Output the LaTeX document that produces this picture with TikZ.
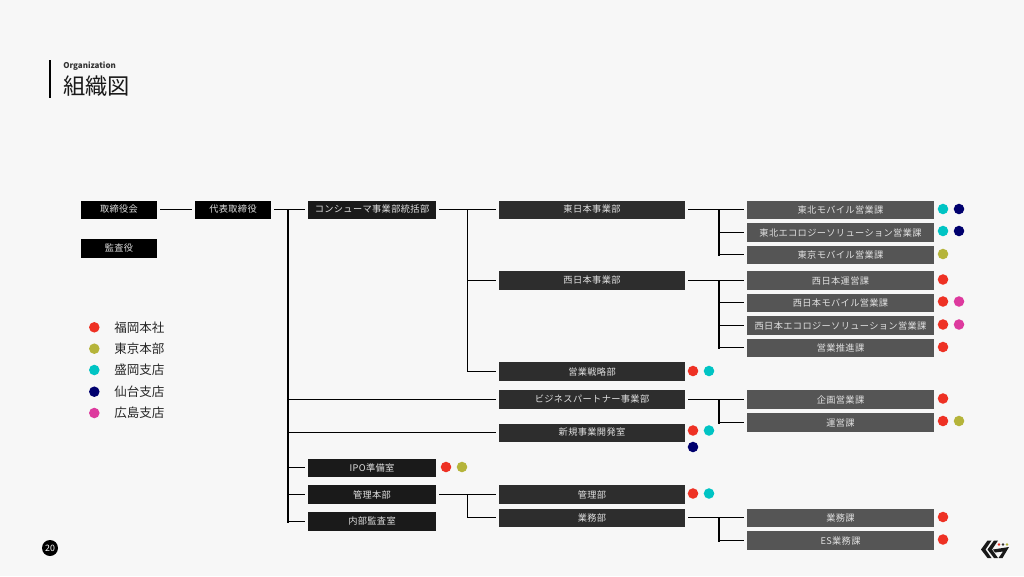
\documentclass[tikz,border=0pt]{standalone}
\usepackage{fontspec}
\setmainfont{Noto Sans CJK JP}[LetterSpace=4]
\newfontfamily\plainjp{Noto Sans CJK JP}
\newcounter{dotc}
\definecolor{bg}{HTML}{F7F7F7}
\definecolor{cfuk}{HTML}{EE3124}
\definecolor{ctok}{HTML}{B5B43A}
\definecolor{cmor}{HTML}{00C4C4}
\definecolor{csen}{HTML}{00006E}
\definecolor{chir}{HTML}{DD3A9E}
\definecolor{lvA}{HTML}{000000}
\definecolor{lvB}{HTML}{1A1A1A}
\definecolor{lvC}{HTML}{2D2D2D}
\definecolor{lvD}{HTML}{555555}
\tikzset{
  x=0.75pt,y=-0.75pt,
  boxn/.style={rectangle,inner sep=0pt,outer sep=2.25pt,text=white!88!black,font=\fontsize{6.9pt}{8pt}\selectfont},
  conn/.style={line width=0.8pt,black},
  trunk/.style={line width=1.5pt,black,line cap=rect},
  dotn/.style={circle,inner sep=0pt,minimum size=7.9pt,draw=none},
  legt/.style={anchor=west,inner sep=0pt,text=black!85,font=\plainjp\fontsize{9.4pt}{11pt}\selectfont},
}
\newcommand\bx[7]{\node[boxn,fill=#6,minimum width={(#4-#2)*0.75pt},minimum height={(#5-#3)*0.75pt}] (#1) at ({(#2+#4)/2},{(#3+#5)/2}) {#7};}
\newcommand\dt[3]{\stepcounter{dotc}\node[dotn,fill=#3] (d\arabic{dotc}) at (#1,#2) {};}
\begin{document}
\begin{tikzpicture}
\useasboundingbox (0,0) rectangle (1024,576);
\fill[bg] (0,0) rectangle (1024,576);
% heading
\fill[black] (49,60) rectangle (51,98);
\node[anchor=west,inner sep=0pt,text=black!80,font=\plainjp\bfseries\fontsize{6pt}{8pt}\selectfont] (hdA) at (63,66.5) {Organization};
\node[anchor=west,inner sep=0pt,text=black!90,font=\plainjp\fontsize{16.7pt}{20pt}\selectfont] (hdB) at (63,86) {組織図};
% boxes
\bx{bod}{81}{200.5}{157}{218.5}{lvA}{取締役会}
\bx{aud}{81}{239}{157}{258}{lvA}{監査役}
\bx{ceo}{195}{200.5}{271}{218.5}{lvA}{代表取締役}
\bx{cons}{308}{200.5}{436}{218.5}{lvB}{コンシューマ事業部統括部}
\bx{ipo}{308}{458.5}{436}{476.5}{lvB}{IPO準備室}
\bx{admh}{308}{485}{436}{504}{lvB}{管理本部}
\bx{inta}{308}{512}{436}{531}{lvB}{内部監査室}
\bx{east}{499}{200.5}{685}{218.5}{lvC}{東日本事業部}
\bx{west}{499}{271}{685}{290}{lvC}{西日本事業部}
\bx{strat}{499}{362}{685}{381}{lvC}{営業戦略部}
\bx{biz}{499}{390}{685}{409}{lvC}{ビジネスパートナー事業部}
\bx{newb}{499}{423.5}{685}{441.5}{lvC}{新規事業開発室}
\bx{adm}{499}{485}{685}{504}{lvC}{管理部}
\bx{gen}{499}{508.5}{685}{526.5}{lvC}{業務部}
\bx{ea}{747}{200.5}{934}{218.5}{lvD}{東北モバイル営業課}
\bx{eb}{747}{223}{934}{242}{lvD}{東北エコロジーソリューション営業課}
\bx{ec}{747}{245.5}{934}{263.5}{lvD}{東京モバイル営業課}
\bx{wa}{747}{271}{934}{290}{lvD}{西日本運営課}
\bx{wb}{747}{293.5}{934}{311.5}{lvD}{西日本モバイル営業課}
\bx{wc}{747}{316}{934}{335}{lvD}{西日本エコロジーソリューション営業課}
\bx{wd}{747}{338.5}{934}{356.5}{lvD}{営業推進課}
\bx{ba}{747}{390}{934}{409}{lvD}{企画営業課}
\bx{bb}{747}{413}{934}{432}{lvD}{運営課}
\bx{ga}{747}{508.5}{934}{526.5}{lvD}{業務課}
\bx{gb}{747}{531}{934}{550}{lvD}{ES業務課}
% connectors
\draw[conn] (bod.east) -- (ceo.west);
\draw[conn] (ceo.east) -- (cons.west);
\draw[conn] (cons.east) -- (east.west);
\draw[conn] (east.east) -- (ea.west);
\draw[conn] (west.east) -- (wa.west);
\draw[conn] (biz.east) -- (ba.west);
\draw[conn] (gen.east) -- (ga.west);
\draw[conn] (admh.east) -- (adm.west);
\coordinate (tMain) at (288,209.5);
\coordinate (tCons) at (467.5,209.5);
\coordinate (tEast) at (719,209.5);
\coordinate (tWest) at (719,280.5);
\coordinate (tBiz) at (719,399.5);
\coordinate (tGen) at (719,517.5);
\coordinate (tAdm) at (467.5,494.5);
\draw[trunk] (tMain) -- (tMain |- inta.west);
\foreach \n in {biz,newb,ipo,admh,inta} \draw[conn] (tMain |- \n.west) -- (\n.west);
\draw[conn] (tCons) -- (tCons |- strat.west);
\foreach \n in {west,strat} \draw[conn] (tCons |- \n.west) -- (\n.west);
\draw[trunk] (tEast) -- (tEast |- ec.west);
\foreach \n in {eb,ec} \draw[conn] (tEast |- \n.west) -- (\n.west);
\draw[trunk] (tWest) -- (tWest |- wd.west);
\foreach \n in {wb,wc,wd} \draw[conn] (tWest |- \n.west) -- (\n.west);
\draw[trunk] (tBiz) -- (tBiz |- bb.west);
\draw[conn] (tBiz |- bb.west) -- (bb.west);
\draw[trunk] (tGen) -- (tGen |- gb.west);
\draw[conn] (tGen |- gb.west) -- (gb.west);
\draw[conn] (tAdm) -- (tAdm |- gen.west);
\draw[conn] (tAdm |- gen.west) -- (gen.west);
% location dots
\dt{943}{209}{cmor}\dt{959}{209}{csen}
\dt{943}{231}{cmor}\dt{959}{231}{csen}
\dt{943}{254}{ctok}
\dt{943}{279.5}{cfuk}
\dt{943}{301.5}{cfuk}\dt{959}{301.5}{chir}
\dt{943}{324.5}{cfuk}\dt{959}{324.5}{chir}
\dt{943}{347}{cfuk}
\dt{943}{398.5}{cfuk}
\dt{943}{421}{cfuk}\dt{959}{421}{ctok}
\dt{943}{517}{cfuk}
\dt{943}{539.5}{cfuk}
\dt{693}{371}{cfuk}\dt{709}{371}{cmor}
\dt{693}{430.5}{cfuk}\dt{709}{430.5}{cmor}
\dt{693}{447}{csen}
\dt{693}{493.5}{cfuk}\dt{709}{493.5}{cmor}
\dt{446}{467}{cfuk}\dt{462}{467}{ctok}
% legend
\dt{94.3}{327.3}{cfuk}\node[legt] (lgA) at (114,327.5) {福岡本社};
\dt{94.3}{348.7}{ctok}\node[legt] (lgB) at (114,348.5) {東京本部};
\dt{94.3}{370}{cmor}\node[legt] (lgC) at (114,369.5) {盛岡支店};
\dt{94.3}{391.7}{csen}\node[legt] (lgD) at (114,391.5) {仙台支店};
\dt{94.3}{413}{chir}\node[legt] (lgE) at (114,412.5) {広島支店};
% page number
\node[circle,fill=black,inner sep=0pt,minimum size=12pt,text=white,font=\plainjp\fontsize{6.6pt}{7pt}\selectfont] (pg) at (50,548) {20};
% logo
\fill[black!90] (987.5,540.5) -- (991.5,540.5) -- (985.5,549.5) -- (991.5,558) -- (987.5,558) -- (981,549.5) -- cycle;
\fill[black!90] (994,540.5) -- (998,540.5) -- (992,549.5) -- (998,558) -- (994,558) -- (987.5,549.5) -- cycle;
\fill[black!90] (993,549.5) -- (1009,547) -- (1002.5,558) -- (998.5,558) -- (1003,551.5) -- (995,552.5) -- cycle;
\fill[cfuk] (999,544.5) circle (1.4);
\fill[black!80] (1003,544.5) circle (1.4);
\fill[ctok] (1007,544.5) circle (1.4);
\end{tikzpicture}
\end{document}
